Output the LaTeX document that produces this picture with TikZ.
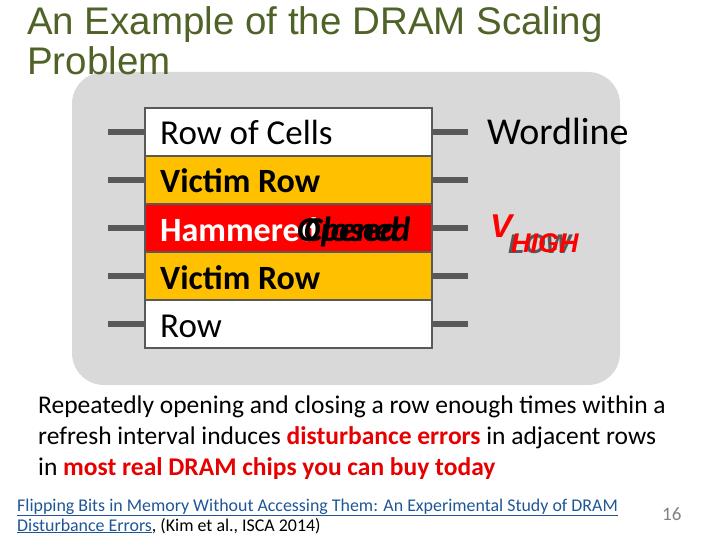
\documentclass[tikz,border=0pt]{standalone}
\usepackage{fontspec}
\setmainfont{Carlito}
\newfontfamily\arialf{Liberation Sans}
\definecolor{titlegreen}{RGB}{79,98,40}
\definecolor{panelgray}{RGB}{217,217,217}
\definecolor{linegray}{RGB}{89,89,89}
\definecolor{victim}{RGB}{255,192,0}
\definecolor{hammer}{RGB}{255,0,0}
\definecolor{errred}{RGB}{230,0,0}
\definecolor{linkblue}{RGB}{31,86,150}
\definecolor{numgray}{RGB}{128,128,128}
\begin{document}
\begin{tikzpicture}[x=1pt,y=-1pt,
  rowbox/.style={draw=linegray,line width=2.5pt},
  wire/.style={draw=linegray,line width=6pt},
  rowtext/.style={anchor=base west,inner sep=0pt,font=\fontsize{35}{38}\selectfont},
  boldrow/.style={anchor=base west,inner sep=0pt,font=\bfseries\fontsize{34}{38}\selectfont},
  plain/.style={anchor=base west,inner sep=0pt,font=\fontsize{25.5}{28}\selectfont},
  cite/.style={anchor=base west,inner sep=0pt,font=\fontsize{17.9}{20}\selectfont}]
\useasboundingbox (0,0) rectangle (720,540);
% panel
\fill[panelgray,rounded corners=32pt] (72,72) rectangle (620,385);
% title
\node[anchor=base west,inner sep=0pt,text=titlegreen,font=\arialf\fontsize{38.5}{42}\selectfont] (t1) at (27,35) {An Example of the DRAM Scaling};
\node[anchor=base west,inner sep=0pt,text=titlegreen,font=\arialf\fontsize{38.5}{42}\selectfont] (t2) at (27,75) {Problem};
% wordline stubs
\foreach \y in {132,180,228,276,324}{
  \coordinate (l\y) at (108,\y); \coordinate (r\y) at (468,\y);
  \draw[wire] (l\y) -- (145,\y);
  \draw[wire] (432,\y) -- (r\y);
}
% rows
\draw[rowbox,fill=white] (145,108) rectangle (432,156);
\draw[rowbox,fill=victim] (145,156) rectangle (432,204);
\draw[rowbox,fill=hammer] (145,204) rectangle (432,252);
\draw[rowbox,fill=victim] (145,252) rectangle (432,300);
\draw[rowbox,fill=white] (145,300) rectangle (432,348);
\node[rowtext] (r1) at (160,145) {Row of Cells};
\node[boldrow] (r2) at (160,193) {Victim Row};
\node[boldrow,text=white] (r3) at (160,241) {Hammered};
\node[anchor=base west,inner sep=0pt,font=\bfseries\itshape\fontsize{35}{38}\selectfont] (op) at (297,241) {Opened};
\node[anchor=base west,inner sep=0pt,font=\bfseries\itshape\fontsize{35}{38}\selectfont] (cl) at (304,241) {Closed};
\node[boldrow] (r4) at (160,289) {Victim Row};
\node[rowtext] (r5) at (160,337) {Row};
% right labels
\node[anchor=base west,inner sep=0pt,font=\fontsize{38}{40}\selectfont] (wl) at (487,145) {Wordline};
\node[anchor=base west,inner sep=0pt,text=hammer,font=\arialf\bfseries\itshape\fontsize{33}{36}\selectfont] (v) at (490,237) {V};
\node[anchor=base west,inner sep=0pt,text=linegray,font=\arialf\bfseries\itshape\fontsize{27}{30}\selectfont] (low) at (508,253) {LOW};
\node[anchor=base west,inner sep=0pt,text=hammer,font=\arialf\bfseries\itshape\fontsize{27}{30}\selectfont] (high) at (511,252) {HIGH};
% bottom text
\node[plain] (b1) at (38,413) {Repeatedly opening and closing a row enough times within a};
\node[plain] (b2) at (38,444) {refresh interval induces \textcolor{errred}{\bfseries disturbance errors} in adjacent rows};
\node[plain] (b3) at (38,475) {in \textcolor{errred}{\bfseries most real DRAM chips you can buy today}};
% citation
\node[cite,text=linkblue] (c1) at (17,511) {\underline{Flipping Bits in Memory Without Accessing Them: An Experimental Study of DRAM}};
\node[cite] (c2) at (17,531) {\textcolor{linkblue}{\underline{Disturbance Errors}}, (Kim et al., ISCA 2014)};
\node[anchor=base west,inner sep=0pt,text=numgray,font=\fontsize{19}{22}\selectfont] (pg) at (662,520) {16};
\end{tikzpicture}
\end{document}
